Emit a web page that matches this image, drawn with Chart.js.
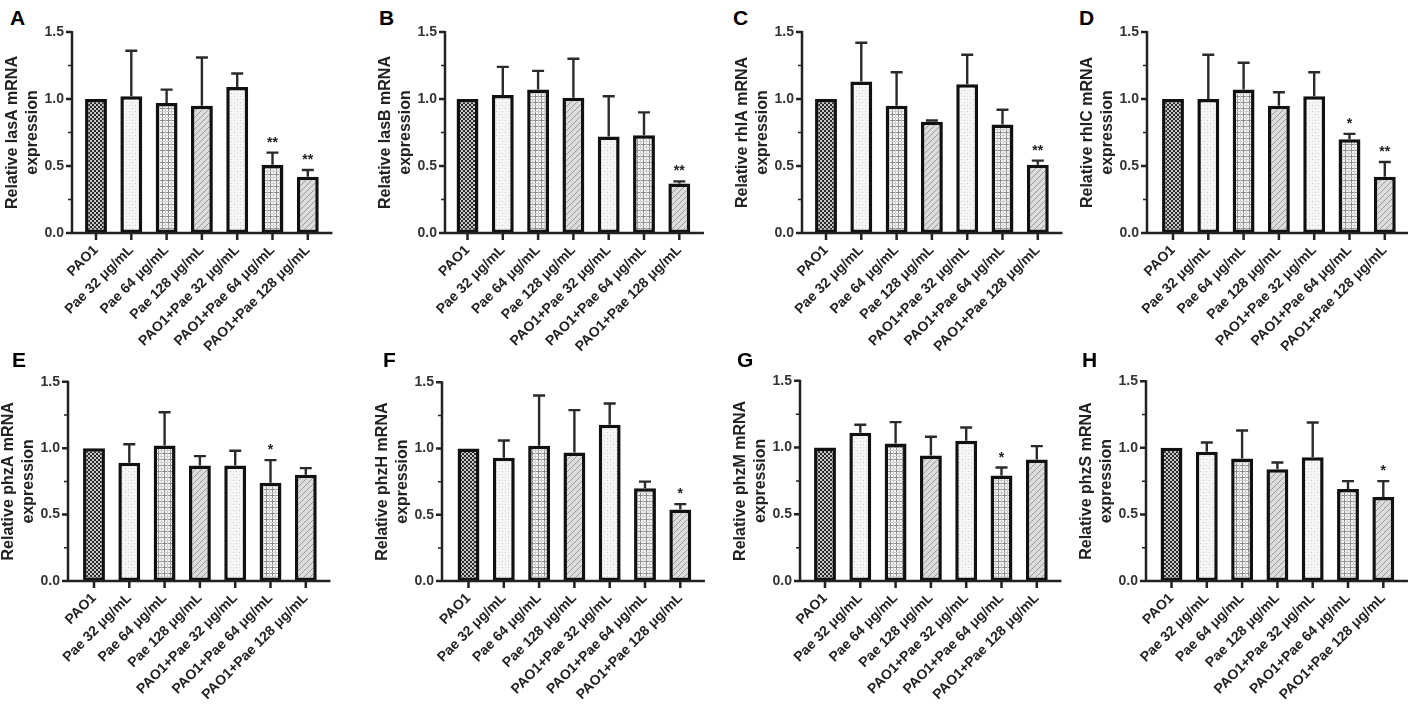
<!DOCTYPE html>
<html>
<head>
<meta charset="utf-8">
<script src="https://cdn.jsdelivr.net/npm/chart.js@4.4.0/dist/chart.umd.min.js"></script>
<style>
  html, body { margin: 0; padding: 0; background: #fff; overflow: hidden; }
  #fig { position: relative; width: 1408px; height: 714px; }
  .panel { position: absolute; }
  .tag { position: absolute; font: bold 21px "Liberation Sans", Arial, sans-serif; line-height: 1; color: #000; }
</style>
</head>
<body>
<div id="fig"></div>
<script>
// Treatment groups (x axis)
const groups = ['PAO1', 'Pae 32 μg/mL', 'Pae 64 μg/mL', 'Pae 128 μg/mL',
  'PAO1+Pae 32 μg/mL', 'PAO1+Pae 64 μg/mL', 'PAO1+Pae 128 μg/mL'];

// Relative mRNA expression (mean) and upper error bar value, per gene
const lasA = [1.00, 1.02, 0.97, 0.95, 1.09, 0.51, 0.42];
const lasAErr = [1.00, 1.36, 1.07, 1.31, 1.19, 0.60, 0.47];
const lasAStars = ['', '', '', '', '', '**', '**'];

const lasB = [1.00, 1.03, 1.07, 1.01, 0.72, 0.73, 0.37];
const lasBErr = [1.00, 1.24, 1.21, 1.30, 1.02, 0.90, 0.385];
const lasBStars = ['', '', '', '', '', '', '**'];

const rhlA = [1.00, 1.13, 0.95, 0.83, 1.11, 0.81, 0.51];
const rhlAErr = [1.00, 1.42, 1.20, 0.84, 1.33, 0.92, 0.54];
const rhlAStars = ['', '', '', '', '', '', '**'];

const rhlC = [1.00, 1.00, 1.07, 0.95, 1.02, 0.70, 0.42];
const rhlCErr = [1.00, 1.33, 1.27, 1.05, 1.20, 0.74, 0.53];
const rhlCStars = ['', '', '', '', '', '*', '**'];

const phzA = [1.00, 0.89, 1.02, 0.87, 0.87, 0.74, 0.80];
const phzAErr = [1.00, 1.03, 1.27, 0.94, 0.98, 0.91, 0.85];
const phzAStars = ['', '', '', '', '', '*', ''];

const phzH = [1.00, 0.93, 1.02, 0.97, 1.18, 0.70, 0.54];
const phzHErr = [1.00, 1.06, 1.40, 1.29, 1.34, 0.75, 0.58];
const phzHStars = ['', '', '', '', '', '', '*'];

const phzM = [1.00, 1.11, 1.03, 0.94, 1.05, 0.79, 0.91];
const phzMErr = [1.00, 1.17, 1.19, 1.08, 1.15, 0.85, 1.01];
const phzMStars = ['', '', '', '', '', '*', ''];

const phzS = [1.00, 0.97, 0.92, 0.84, 0.93, 0.69, 0.63];
const phzSErr = [1.00, 1.04, 1.13, 0.89, 1.19, 0.75, 0.75];
const phzSStars = ['', '', '', '', '', '', '*'];

const FONT = '"Liberation Sans", Arial, sans-serif';
const STEP = 35.3;          // px per category
const PANEL_W = 336;
const PANEL_H = 357;

// fill patterns, one per group
function tile(size, draw) {
  const c = document.createElement('canvas');
  c.width = c.height = size;
  const g = c.getContext('2d');
  draw(g, size);
  return g.createPattern(c, 'repeat');
}
const checker = tile(4, g => {
  g.fillStyle = '#c8c8c8'; g.fillRect(0, 0, 4, 4);
  g.fillStyle = '#2a2a2a'; g.fillRect(0, 0, 2, 2); g.fillRect(2, 2, 2, 2);
});
const dots = tile(6, g => {
  g.fillStyle = '#f6f6f6'; g.fillRect(0, 0, 6, 6);
  g.fillStyle = '#c8c8c8'; g.fillRect(0, 0, 1, 1); g.fillRect(3, 3, 1, 1);
  g.fillStyle = '#e2e2e2'; g.fillRect(0, 3, 1, 1); g.fillRect(3, 0, 1, 1);
});
const grid = tile(6, g => {
  g.fillStyle = '#f6f6f6'; g.fillRect(0, 0, 6, 6);
  g.fillStyle = '#8c8c8c'; g.fillRect(0, 0, 6, 1); g.fillRect(0, 0, 1, 6);
  g.fillStyle = '#cdcdcd'; g.fillRect(0, 3, 6, 1); g.fillRect(3, 0, 1, 6);
});
const hatch = tile(6, g => {
  g.fillStyle = '#dcdcdc'; g.fillRect(0, 0, 6, 6);
  g.strokeStyle = '#9a9a9a'; g.lineWidth = 1;
  g.beginPath();
  g.moveTo(0, 6); g.lineTo(6, 0);
  g.moveTo(-1, 1); g.lineTo(1, -1);
  g.moveTo(5, 7); g.lineTo(7, 5);
  g.stroke();
});
const fills = [checker, dots, grid, hatch, dots, grid, hatch];

// Prism style axes, error bars and significance stars
const prismAxes = {
  id: 'prismAxes',
  afterDatasetsDraw(chart, args, opts) {
    const { ctx, chartArea: a, scales: { x, y } } = chart;
    const ax = a.left - opts.gap;
    const y0 = y.getPixelForValue(0);
    const yTop = y.getPixelForValue(1.5);
    ctx.save();
    ctx.strokeStyle = '#222';
    ctx.lineWidth = 2.5;
    ctx.beginPath();
    ctx.moveTo(ax, yTop - 1); ctx.lineTo(ax, y0);
    ctx.moveTo(ax - 1.2, y0); ctx.lineTo(a.right + 7, y0);
    y.ticks.forEach(t => {
      const py = y.getPixelForValue(t.value);
      ctx.moveTo(ax, py); ctx.lineTo(ax - 6, py);
    });
    x.ticks.forEach((t, i) => {
      const px = x.getPixelForTick(i);
      ctx.moveTo(px, y0); ctx.lineTo(px, y0 + 7);
    });
    ctx.stroke();

    // minor ticks
    ctx.lineWidth = 1.5;
    ctx.beginPath();
    for (let i = 0; i < y.ticks.length - 1; i++) {
      const py = y.getPixelForValue((y.ticks[i].value + y.ticks[i + 1].value) / 2);
      ctx.moveTo(ax, py); ctx.lineTo(ax - 4, py);
    }
    ctx.stroke();

    // error bars
    const meta = chart.getDatasetMeta(0);
    ctx.lineWidth = 2.4;
    ctx.strokeStyle = '#2a2a2a';
    ctx.fillStyle = '#222';
    ctx.font = 'bold 14px ' + FONT;
    ctx.textAlign = 'center';
    ctx.textBaseline = 'alphabetic';
    meta.data.forEach((bar, i) => {
      const ey = y.getPixelForValue(opts.err[i]);
      if (ey < bar.y - 1) {
        ctx.beginPath();
        ctx.moveTo(bar.x, bar.y); ctx.lineTo(bar.x, ey);
        ctx.moveTo(bar.x - 6, ey); ctx.lineTo(bar.x + 6, ey);
        ctx.stroke();
      }
      if (opts.stars[i]) ctx.fillText(opts.stars[i], bar.x, ey - 6);
    });
    ctx.restore();
  }
};

const panels = [
  { tag: 'A', gene: 'lasA', data: lasA, err: lasAErr, stars: lasAStars, row: 0, axisX: 72, first: 96, tagX: 10 },
  { tag: 'B', gene: 'lasB', data: lasB, err: lasBErr, stars: lasBStars, row: 0, axisX: 445, first: 467.5, tagX: 379 },
  { tag: 'C', gene: 'rhlA', data: rhlA, err: rhlAErr, stars: rhlAStars, row: 0, axisX: 802, first: 826, tagX: 733 },
  { tag: 'D', gene: 'rhlC', data: rhlC, err: rhlCErr, stars: rhlCStars, row: 0, axisX: 1147, first: 1173, tagX: 1079 },
  { tag: 'E', gene: 'phzA', data: phzA, err: phzAErr, stars: phzAStars, row: 1, axisX: 68, first: 94, tagX: 12 },
  { tag: 'F', gene: 'phzH', data: phzH, err: phzHErr, stars: phzHStars, row: 1, axisX: 442, first: 468.5, tagX: 383 },
  { tag: 'G', gene: 'phzM', data: phzM, err: phzMErr, stars: phzMStars, row: 1, axisX: 800, first: 825, tagX: 737 },
  { tag: 'H', gene: 'phzS', data: phzS, err: phzSErr, stars: phzSStars, row: 1, axisX: 1146, first: 1171.5, tagX: 1082 }
];

const fig = document.getElementById('fig');

panels.forEach(p => {
  const T = p.row === 0 ? 0 : 357;
  const yMax = p.row === 0 ? 32 : 378;     // pixel of 1.5
  const yZero = p.row === 0 ? 233 : 581;   // pixel of 0.0
  const L = p.axisX - 72;
  const chartLeft = p.first - STEP / 2;
  const chartRight = chartLeft + 7 * STEP;
  const gap = chartLeft - p.axisX;
  const yw = chartLeft - L - 3;
  const xh = 120;

  const tag = document.createElement('div');
  tag.className = 'tag';
  tag.textContent = p.tag;
  tag.style.left = p.tagX + 'px';
  tag.style.top = (p.row === 0 ? 7 : 349) + 'px';
  fig.appendChild(tag);

  const box = document.createElement('div');
  box.className = 'panel';
  box.style.left = L + 'px';
  box.style.top = T + 'px';
  box.style.width = PANEL_W + 'px';
  box.style.height = PANEL_H + 'px';
  const cv = document.createElement('canvas');
  box.appendChild(cv);
  fig.appendChild(box);

  new Chart(cv, {
    type: 'bar',
    data: {
      labels: groups,
      datasets: [{
        data: p.data,
        backgroundColor: fills,
        borderColor: '#111',
        borderWidth: 3.5,
        borderSkipped: false,
        barPercentage: 0.62,
        categoryPercentage: 1
      }]
    },
    options: {
      responsive: true,
      maintainAspectRatio: false,
      animation: false,
      layout: {
        padding: {
          left: 3,
          top: yMax - T,
          right: PANEL_W - (chartRight - L),
          bottom: PANEL_H - (yZero - T) - xh
        }
      },
      plugins: {
        legend: { display: false },
        tooltip: { enabled: false },
        prismAxes: { gap: gap, err: p.err, stars: p.stars }
      },
      scales: {
        x: {
          grid: { display: false, drawTicks: false },
          border: { display: false },
          ticks: {
            autoSkip: false,
            minRotation: 45,
            maxRotation: 45,
            padding: 9,
            color: '#222',
            font: { family: FONT, size: 14, weight: 'bold' }
          },
          afterFit(s) { s.height = xh; }
        },
        y: {
          min: 0,
          max: 1.5,
          grid: { display: false, drawTicks: false },
          border: { display: false },
          ticks: {
            stepSize: 0.5,
            padding: gap + 8,
            color: '#333',
            font: { family: FONT, size: 14, weight: 'bold' },
            callback: v => v.toFixed(1)
          },
          title: {
            display: true,
            text: ['Relative ' + p.gene + ' mRNA', 'expression'],
            color: '#222',
            padding: 0,
            font: { family: FONT, size: 16, weight: 'bold', lineHeight: 1.25 }
          },
          afterFit(s) { s.width = yw; }
        }
      }
    },
    plugins: [prismAxes]
  });
});
</script>
</body>
</html>
